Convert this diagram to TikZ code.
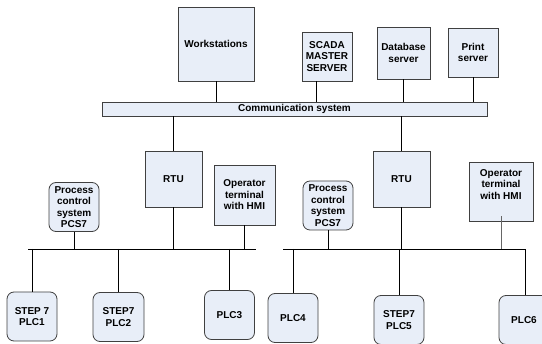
\documentclass[tikz,border=0pt]{standalone}
\usepackage{fontspec}
\setmainfont{Liberation Sans}
\usetikzlibrary{positioning}

\definecolor{boxfill}{RGB}{232,238,248}
\definecolor{boxline}{RGB}{64,64,64}

\tikzset{
  unit/.style={draw=boxline, fill=boxfill, line width=0.8pt, align=center,
    font=\fontsize{10}{11.5}\selectfont\bfseries, inner sep=1pt},
  plcbox/.style={unit, rounded corners=7pt, minimum width=50pt, minimum height=49pt},
  link/.style={line width=0.7pt}
}

\begin{document}
\begin{tikzpicture}[x=1pt,y=-1pt]
\clip (0,0) rectangle (542,344);
%
% upper level: servers on the communication system
\node[unit, minimum width=76pt, minimum height=74pt] (ws) at (216,44) {Workstations};
\node[unit, minimum width=50pt, minimum height=49pt] (scada) at (327,56.5) {SCADA\\MASTER\\SERVER};
\node[unit, minimum width=53pt, minimum height=52pt] (db) at (403.5,53) {Database\\server};
\node[unit, minimum width=50pt, minimum height=49pt] (prn) at (473,52.5) {Print\\server};
\node[unit, minimum width=385pt, minimum height=14pt] (comm) at (294.5,109) {Communication system};
%
% stations
\node[unit, minimum width=57pt, minimum height=56pt] (rtu1) at (173.5,179) {RTU};
\node[unit, minimum width=57pt, minimum height=56pt] (rtu2) at (401.5,179) {RTU};
\node[unit, minimum width=61pt, minimum height=60pt] (hmi1) at (244.5,195) {Operator\\terminal\\with HMI};
\node[unit, minimum width=64pt, minimum height=59pt, text depth=14pt] (hmi2) at (501,191.5) {Operator\\terminal\\with HMI};
\node[plcbox] (pcs1) at (74,207) {Process\\control\\system\\PCS7};
\node[plcbox] (pcs2) at (328,205.5) {Process\\control\\system\\PCS7};
%
% controllers
\node[plcbox] (plc1) at (32,316.5) {STEP 7\\PLC1};
\node[plcbox, minimum width=51pt] (plc2) at (118.5,317) {STEP7\\PLC2};
\node[plcbox] (plc3) at (229.5,315) {PLC3};
\node[plcbox] (plc4) at (293,318) {PLC4};
\node[plcbox] (plc5) at (399,320) {STEP7\\PLC5};
\node[plcbox] (plc6) at (524,320) {PLC6};
%
% field buses
\coordinate (busA) at (28,249);
\coordinate (busB) at (256,249);
\coordinate (busC) at (283,249);
\coordinate (busD) at (525,249);
\draw[link] (busA) -- (busB);
\draw[link] (busC) -- (busD) -- (busD |- plc6.north);
%
\draw[link] (ws.south) -- (ws.south |- comm.north);
\draw[link] ([xshift=-11pt]scada.south) -- ([xshift=-11pt]scada.south |- comm.north);
\draw[link] (db.south) -- (db.south |- comm.north);
\draw[link] (prn.south) -- (prn.south |- comm.north);
\draw[link] (comm.south -| rtu1.north) -- (rtu1.north);
\draw[link] (comm.south -| rtu2.north) -- (rtu2.north);
%
\foreach \n in {rtu1,hmi1,pcs1,rtu2,pcs2}
  \draw[link] (\n.south) -- (\n.south |- busA);
\draw[link, black!60] ([yshift=5pt]hmi2.south) -- (hmi2.south |- busA);
\foreach \n in {plc1,plc2,plc3,plc4,plc5}
  \draw[link] (\n.north |- busA) -- (\n.north);
\end{tikzpicture}
\end{document}
